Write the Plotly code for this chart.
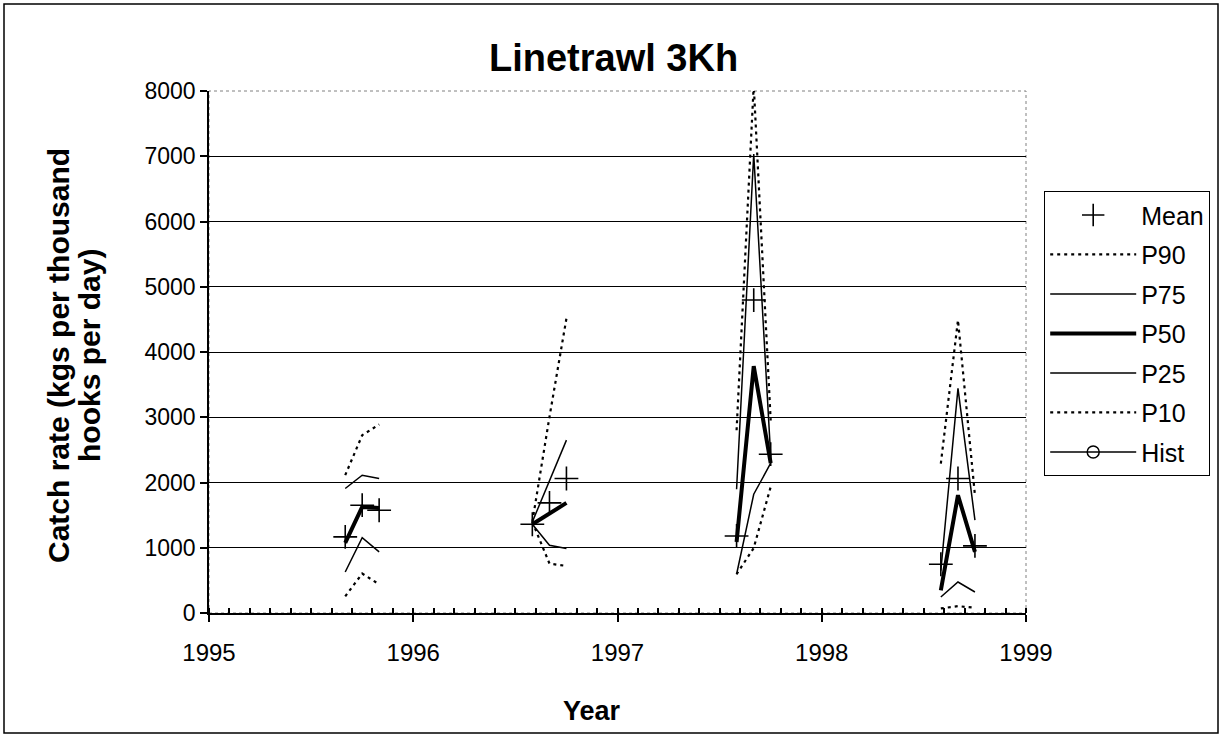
import plotly.graph_objects as go

# survey months (decimal years), three per season
years = [
    1995.667, 1995.750, 1995.833,
    1996.583, 1996.667, 1996.750,
    1997.583, 1997.667, 1997.750,
    1998.583, 1998.667, 1998.750,
]

mean = [1166, 1652, 1575, 1360, 1687, 2061, 1181, 4796, 2434, 747, 2061, 1028]
p90 = [2112, 2725, 2890, 1396, 3006, 4515, 2800, 8090, 2950, 2291, 4489, 1805]
p75 = [1908, 2112, 2061, 1396, 2035, 2649, 1897, 7035, 2403, 650, 3442, 1422]
p50 = [1074, 1626, 1610, 1360, 1525, 1687, 1089, 3784, 2296, 348, 1805, 936]
p25 = [629, 1156, 936, 1360, 1038, 988, 594, 1820, 2296, 245, 475, 322]
p10 = [256, 604, 440, 1396, 757, 721, 594, 997, 1933, 70, 105, 80]

FONT = "Arial, Liberation Sans, sans-serif"


def with_gaps(xs, ys, size=3):
    """Insert None between seasons so the lines break."""
    gx, gy = [], []
    for i in range(0, len(xs), size):
        gx += xs[i:i + size] + [None]
        gy += ys[i:i + size] + [None]
    return gx, gy


fig = go.Figure()

fig.add_trace(go.Scatter(
    x=years, y=mean, name="Mean", mode="markers", legendgroup="a",
    marker=dict(symbol="cross-thin", size=17, color="black",
                line=dict(width=1.6, color="black")),
))

series = [
    ("P90", p90, dict(color="black", width=2.2, dash="3px,4px"), "b"),
    ("P75", p75, dict(color="black", width=1.5), "c"),
    ("P50", p50, dict(color="black", width=4), "d"),
    ("P25", p25, dict(color="black", width=1.5), "e"),
    ("P10", p10, dict(color="black", width=2.2, dash="3px,4px"), "f"),
]
for name, vals, line, grp in series:
    gx, gy = with_gaps(years, vals)
    fig.add_trace(go.Scatter(
        x=gx, y=gy, name=name, mode="lines", line=line,
        legendgroup=grp, connectgaps=False,
    ))

# historical series has no points in this panel, only a legend entry
fig.add_trace(go.Scatter(
    x=[None], y=[None], name="Hist", mode="lines+markers", legendgroup="g",
    line=dict(color="black", width=1.5),
    marker=dict(symbol="circle-open", size=12, color="black",
                line=dict(width=1.5)),
))

L, R, T, B = 209, 197, 91, 123
W, H = 1223, 736
pw, ph = W - L - R, H - T - B


def px_x(p):
    return (p - L) / pw


def px_y(p):
    return (H - B - p) / ph


fig.update_layout(
    width=W, height=H,
    margin=dict(l=L, r=R, t=T, b=B),
    paper_bgcolor="white",
    plot_bgcolor="white",
    font=dict(family=FONT, size=22, color="black"),
    showlegend=True,
    xaxis=dict(
        range=[1995, 1999],
        dtick=1,
        tickformat="d",
        showgrid=False,
        zeroline=False,
        showline=True, linecolor="black", linewidth=1.5,
        ticks="outside", ticklen=7, tickcolor="black", tickwidth=1.5,
        ticklabelstandoff=10,
        minor=dict(dtick=0.1, ticks="inside", ticklen=5,
                   tickcolor="black", showgrid=False),
        tickfont=dict(size=24),
    ),
    yaxis=dict(
        range=[0, 8000],
        dtick=1000,
        showgrid=True, gridcolor="black", gridwidth=1,
        zeroline=False,
        showline=True, linecolor="black", linewidth=1.5,
        ticks="outside", ticklen=7, tickcolor="black", tickwidth=1.5,
        ticklabelstandoff=0,
        tickfont=dict(size=23),
    ),
    legend=dict(
        x=px_x(1044), y=px_y(191), xanchor="left", yanchor="top",
        bordercolor="black", borderwidth=1.2, bgcolor="white",
        font=dict(size=25),
        itemwidth=86,
        tracegroupgap=4,
        traceorder="grouped",
    ),
    annotations=[
        dict(text="<b>Linetrawl 3Kh</b>", xref="paper", yref="paper",
             x=px_x(613), y=px_y(58), xanchor="center", yanchor="middle",
             showarrow=False, font=dict(size=38)),
        dict(text="<b>Year</b>", xref="paper", yref="paper",
             x=px_x(592), y=px_y(711), xanchor="center", yanchor="middle",
             showarrow=False, font=dict(size=27)),
        dict(text="<b>Catch rate (kgs per thousand</b>",
             xref="paper", yref="paper", textangle=-90,
             x=px_x(58), y=px_y(356), xanchor="center", yanchor="middle",
             showarrow=False, font=dict(size=30)),
        dict(text="<b>hooks per day)</b>",
             xref="paper", yref="paper", textangle=-90,
             x=px_x(89), y=px_y(356), xanchor="center", yanchor="middle",
             showarrow=False, font=dict(size=30)),
    ],
    shapes=[
        # outer chart border
        dict(type="rect", xref="paper", yref="paper",
             x0=px_x(4), x1=px_x(1218), y0=px_y(733), y1=px_y(4),
             line=dict(color="black", width=1.5), layer="below"),
        # plot area border
        dict(type="rect", xref="paper", yref="paper",
             x0=0, x1=1, y0=0, y1=1,
             line=dict(color="gray", width=1, dash="dot"), layer="below"),
    ],
)

fig.write_html("out.html", config={"displayModeBar": False},
               post_script="document.body.style.margin='0';")
